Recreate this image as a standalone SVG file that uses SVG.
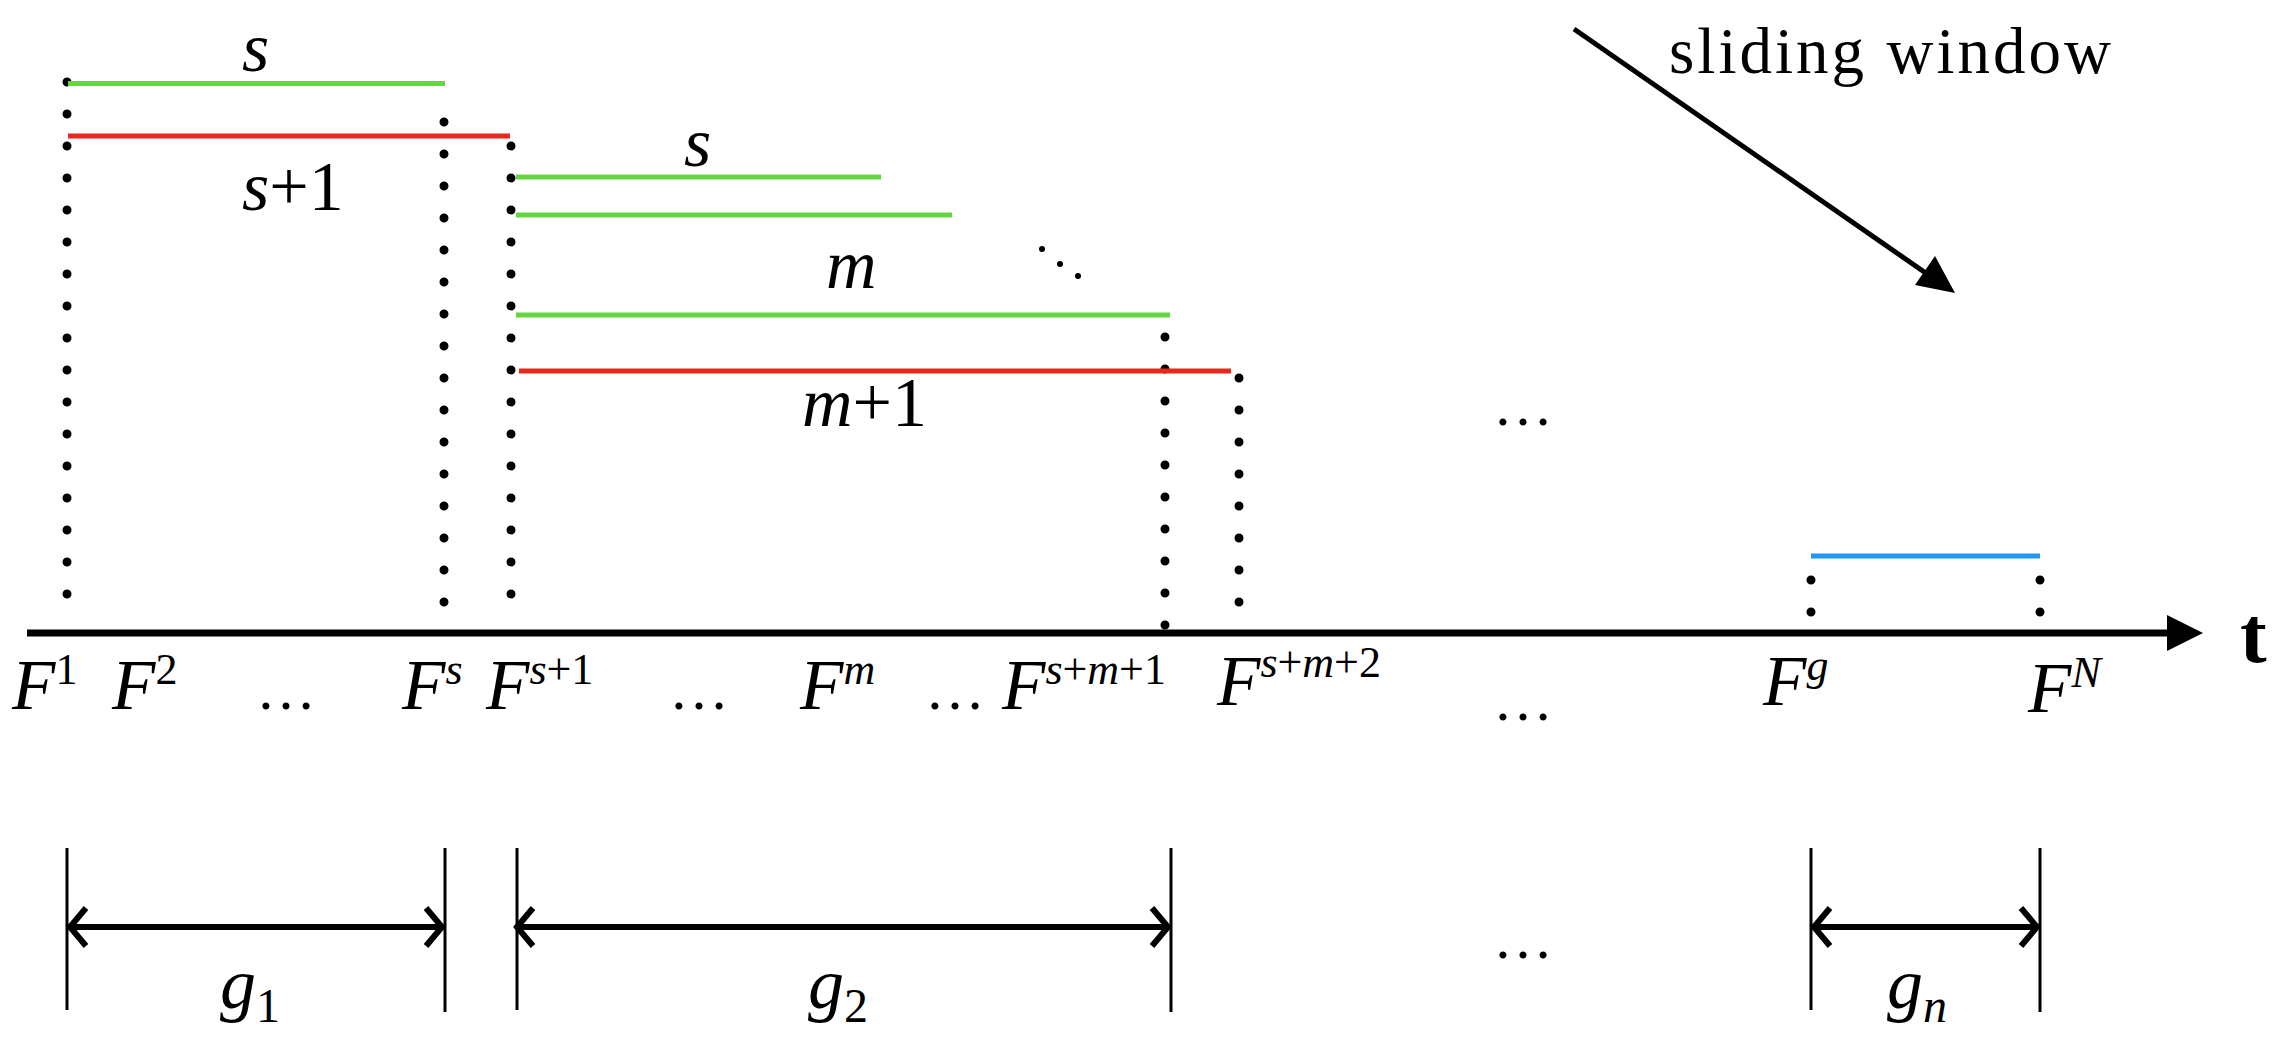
<svg xmlns="http://www.w3.org/2000/svg" width="2296" height="1060" viewBox="0 0 2296 1060">
<style>
text{font-family:"Liberation Serif","Times New Roman","DejaVu Serif",serif;fill:#000}
.i{font-style:italic}
.dot{stroke:#000;stroke-width:9;stroke-linecap:round;stroke-dasharray:0 32;fill:none}
.g{stroke:#66d544;stroke-width:5}
.r{stroke:#e8281f;stroke-width:5}
.b{stroke:#2196f3;stroke-width:5}
.k{stroke:#000;stroke-width:3;fill:none}
.a{stroke:#000;stroke-width:6;fill:none}
</style>
<rect width="2296" height="1060" fill="#fff"/>
<g id="connectors">
<path class="dot" d="M67 82V626"/>
<path class="dot" d="M444 122V626"/>
<path class="dot" d="M511 146V626"/>
<path class="dot" d="M1165 337V626"/>
<path class="dot" d="M1239 378V626"/>
<path class="dot" d="M1811 580V626"/>
<path class="dot" d="M2040 580V626"/>
<line class="g" x1="68" y1="83.5" x2="445" y2="83.5"/>
<line class="r" x1="68" y1="136" x2="510" y2="136"/>
<line class="g" x1="516" y1="177" x2="881" y2="177"/>
<line class="g" x1="516" y1="215" x2="952" y2="215"/>
<line class="g" x1="516" y1="315" x2="1170" y2="315"/>
<line class="r" x1="519" y1="371" x2="1231" y2="371"/>
<line class="b" x1="1811" y1="556" x2="2040" y2="556"/>
<line x1="27" y1="633" x2="2175" y2="633" stroke="#000" stroke-width="7"/>
<path d="M2167 615L2203 633L2167 651Z" fill="#000"/>
<line x1="1574" y1="29" x2="1930" y2="276" stroke="#000" stroke-width="5"/>
<path d="M1955 293L1915 285L1935 256Z" fill="#000"/>
<path class="k" d="M67 848V1010M445 848V1012M517 848V1010M1171 848V1012M1811 848V1010M2040 848V1012"/>
<path class="a" d="M70 927H442M517 927H1168M1814 927H2037"/>
<path class="a" d="M86 908L70 927L86 946M426 908L442 927L426 946M533 908L517 927L533 946M1152 908L1168 927L1152 946M1830 908L1814 927L1830 946M2021 908L2037 927L2021 946"/>
<circle cx="1042" cy="249" r="3"/><circle cx="1060" cy="264" r="3"/><circle cx="1078" cy="276" r="3"/>
</g>
<g id="labels">
<text class="i" x="242" y="71" font-size="70">s</text>
<text x="242" y="210" font-size="70"><tspan class="i">s</tspan>+1</text>
<text class="i" x="684" y="166" font-size="70">s</text>
<text class="i" x="826" y="288" font-size="70">m</text>
<text x="802" y="426" font-size="70"><tspan class="i">m</tspan>+1</text>
<text x="1493" y="425" font-size="60">…</text>
<text x="1669" y="73" font-size="65" textLength="442">sliding window</text>
<text x="2240" y="662" font-size="80" font-weight="bold">t</text>
<g font-size="71">
<text x="12" y="709"><tspan class="i">F</tspan><tspan font-size="44" dy="-25">1</tspan></text>
<text x="112" y="709"><tspan class="i">F</tspan><tspan font-size="44" dy="-25">2</tspan></text>
<text x="256" y="709" font-size="60">…</text>
<text x="402" y="709"><tspan class="i">F</tspan><tspan class="i" font-size="44" dy="-25">s</tspan></text>
<text x="486" y="709"><tspan class="i">F</tspan><tspan font-size="44" dy="-25"><tspan class="i">s</tspan>+1</tspan></text>
<text x="669" y="709" font-size="60">…</text>
<text x="800" y="709"><tspan class="i">F</tspan><tspan class="i" font-size="44" dy="-25">m</tspan></text>
<text x="925" y="709" font-size="60">…</text>
<text x="1002" y="709"><tspan class="i">F</tspan><tspan font-size="44" dy="-25"><tspan class="i">s</tspan>+<tspan class="i">m</tspan>+1</tspan></text>
<text x="1217" y="705"><tspan class="i">F</tspan><tspan font-size="44" dy="-28"><tspan class="i">s</tspan>+<tspan class="i">m</tspan>+2</tspan></text>
<text x="1493" y="720" font-size="60">…</text>
<text x="1763" y="705"><tspan class="i">F</tspan><tspan class="i" font-size="44" dy="-25">g</tspan></text>
<text x="2028" y="712"><tspan class="i">F</tspan><tspan class="i" font-size="44" dy="-25">N</tspan></text>
</g>
<g font-size="72">
<text x="220" y="1008"><tspan class="i">g</tspan><tspan font-size="48" dy="14">1</tspan></text>
<text x="808" y="1008"><tspan class="i">g</tspan><tspan font-size="48" dy="14">2</tspan></text>
<text x="1887" y="1008"><tspan class="i">g</tspan><tspan class="i" font-size="48" dy="14">n</tspan></text>
<text x="1493" y="958" font-size="60">…</text>
</g>
</g>
</svg>
